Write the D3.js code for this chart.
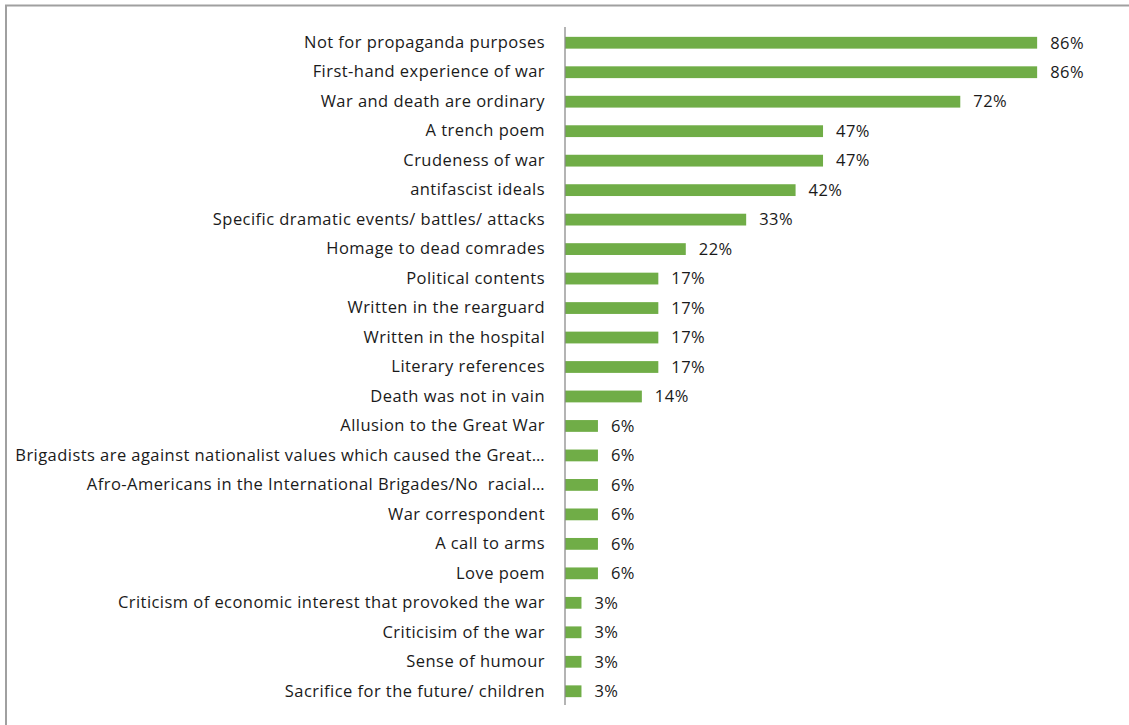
<!DOCTYPE html>
<html>
<head>
<meta charset="utf-8">
<script src="https://cdn.jsdelivr.net/npm/d3@7"></script>
<style>
  html, body { margin: 0; padding: 0; background: #fff; }
  svg { display: block; }
</style>
</head>
<body>
<svg id="chart" width="1129" height="725"></svg>
<script>
// Themes found in the poems, share of poems (%)
const categories = [
  "Not for propaganda purposes",
  "First-hand experience of war",
  "War and death are ordinary",
  "A trench poem",
  "Crudeness of war",
  "antifascist ideals",
  "Specific dramatic events/ battles/ attacks",
  "Homage to dead comrades",
  "Political contents",
  "Written in the rearguard",
  "Written in the hospital",
  "Literary references",
  "Death was not in vain",
  "Allusion to the Great War",
  "Brigadists are against nationalist values which caused the Great…",
  "Afro-Americans in the International Brigades/No  racial…",
  "War correspondent",
  "A call to arms",
  "Love poem",
  "Criticism of economic interest that provoked the war",
  "Criticisim of the war",
  "Sense of humour",
  "Sacrifice for the future/ children"
];
const values = [86, 86, 72, 47, 47, 42, 33, 22, 17, 17, 17, 17, 14, 6, 6, 6, 6, 6, 6, 3, 3, 3, 3];
const valueLabels = values.map(v => v + "%");

const svg = d3.select("#chart");
const font = "'Open Sans', sans-serif";

// chart frame
svg.append("rect")
  .attr("x", 6).attr("y", 5.5)
  .attr("width", 1140).attr("height", 740)
  .attr("fill", "none").attr("stroke", "#a0a0a0").attr("stroke-width", 2);

const x = d3.scaleLinear().domain([0, 100]).range([565, 1114]);
const y = d3.scaleBand().domain(categories).range([28, 706]).paddingInner(0.6).paddingOuter(0.3);

// bars
svg.append("g").selectAll("rect")
  .data(categories)
  .join("rect")
  .attr("x", x(0))
  .attr("y", d => y(d))
  .attr("width", (d, i) => x(values[i]) - x(0))
  .attr("height", y.bandwidth())
  .attr("fill", "#70AD47");

// category axis
const axis = svg.append("g")
  .attr("transform", `translate(${x(0)},0)`)
  .call(d3.axisLeft(y).tickSize(0).tickPadding(20));
axis.select(".domain").attr("stroke", "#8c8c8c").attr("stroke-width", 1.3)
  .attr("d", "M0,27V705");
axis.selectAll("text")
  .attr("font-family", font)
  .attr("font-size", 16.5)
  .attr("letter-spacing", 0.45)
  .attr("fill", "#1a1a1a")
  .style("white-space", "pre");

// value labels
svg.append("g").selectAll("text")
  .data(categories)
  .join("text")
  .attr("x", (d, i) => x(values[i]) + 13)
  .attr("y", d => y(d) + y.bandwidth() / 2)
  .attr("dy", "0.35em")
  .attr("font-family", font)
  .attr("font-size", 16.5)
  .attr("letter-spacing", 0.45)
  .attr("fill", "#1a1a1a")
  .text((d, i) => valueLabels[i]);
</script>
</body>
</html>
